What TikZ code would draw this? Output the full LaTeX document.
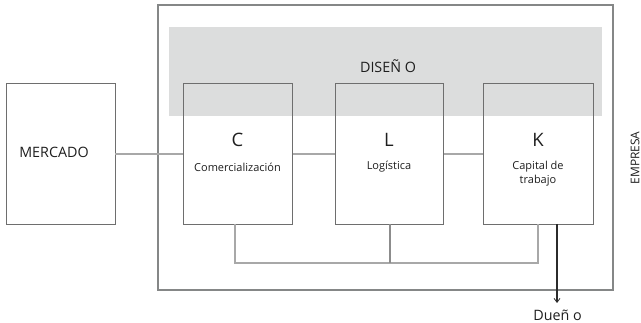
\documentclass[tikz,border=0pt]{standalone}
\usepackage{fontspec}
\setmainfont{Open Sans}
\usetikzlibrary{arrows.meta}
\definecolor{boxline}{HTML}{6E6E6E}
\definecolor{frameline}{HTML}{858787}
\definecolor{linkline}{HTML}{A8A8A8}
\definecolor{midline}{HTML}{8C8C8C}
\definecolor{bandfill}{HTML}{DCDDDD}
\definecolor{arrowline}{HTML}{2B2B2B}
\definecolor{ink}{HTML}{1E1E1E}
\begin{document}
\begin{tikzpicture}[x=1pt,y=-1pt,
  unitbox/.style={draw=boxline,line width=0.9pt},
  link/.style={draw=linkline,line width=1.2pt},
  bigletter/.style={font=\fontsize{18.5}{20}\selectfont,text=ink},
  small/.style={font=\fontsize{11}{14}\selectfont,text=ink,align=center},
  label/.style={font=\fontsize{14.3}{16}\selectfont,text=ink}]
\useasboundingbox (0,0) rectangle (641,323);
% company frame and design band
\draw[frameline,line width=1.5pt] (158,5) rectangle (613,290);
\fill[bandfill] (169,27) rectangle (602,116);
\node[label] (dis) at (388,66) {DISEÑ O};
% market box
\draw[unitbox] (6,83) rectangle (115,224);
\node[label] (mer) at (54,152) {MERCADO};
% links between the boxes
\coordinate (m) at (115,154);
\coordinate (c) at (183,154);
\draw[link] (m) -- (c);
\draw[link] (292,154) -- (335,154);
\draw[link] (443,154) -- (483,154);
% three units
\draw[unitbox] (183,83) rectangle (292,224);
\draw[unitbox] (335,83) rectangle (443,224);
\draw[unitbox] (483,83) rectangle (593,224);
\node[bigletter] (C) at (237.5,140) {C};
\node[small] (Ct) at (237.5,167) {Comercialización};
\node[bigletter] (L) at (389,140) {L};
\node[small] (Lt) at (389,167) {Logística};
\node[bigletter] (K) at (538,140) {K};
\node[small] (Kt) at (538,174) {Capital de\\trabajo};
% bottom bus
\coordinate (c1) at (235,224);
\coordinate (l1) at (390,224);
\coordinate (k1) at (538,224);
\coordinate (c2) at (235,263);
\coordinate (l2) at (390,263);
\coordinate (k2) at (538,263);
\draw[link] (c1) -- (c2) -- (k2) -- (k1);
\draw[midline,line width=1.2pt] (l1) -- (l2);
% owner outflow
\coordinate (o1) at (557,224);
\coordinate (o2) at (557,303);
\draw[arrowline,line width=1.6pt,-{Straight Barb[length=4pt,width=6pt,line width=0.8pt]}] (o1) -- (o2);
\node[label,inner sep=0pt,anchor=base] (own) at (557.5,321) {Dueñ o};
% side label
\node[label,font=\fontsize{12}{14}\selectfont,rotate=90] (emp) at (635,158) {EMPRESA};
\end{tikzpicture}
\end{document}
